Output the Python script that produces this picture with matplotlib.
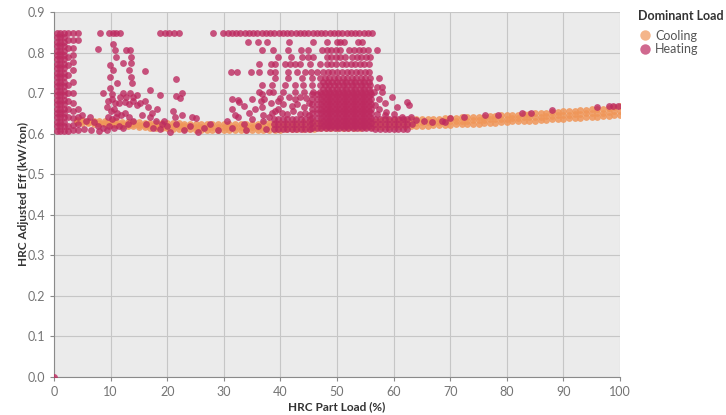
import numpy as np
import matplotlib.pyplot as plt
from matplotlib.lines import Line2D

plt.rcParams['font.family'] = ['Lato', 'DejaVu Sans']

# --- Cooling: narrow band of points, three rows (bottom, middle, top of band)
cool_x = [4, 5, 6, 7, 8, 9, 10,
          11, 12, 13, 14, 15, 16, 17, 18, 19, 20,
          21, 22, 23, 24, 25, 26, 27, 28, 29, 30,
          31, 32, 33, 34, 35, 36, 37, 38, 39, 40,
          41, 42, 43, 44, 45, 46, 47, 48, 49, 50,
          51, 52, 53, 54, 55, 56, 57, 58, 59, 60,
          61, 62, 63, 64, 65, 66, 67, 68, 69, 70,
          71, 72, 73, 74, 75, 76, 77, 78, 79, 80,
          81, 82, 83, 84, 85, 86, 87, 88, 89, 90,
          91, 92, 93, 94, 95, 96, 97, 98, 99, 100]
cool_lo = [0.628, 0.627, 0.626, 0.625, 0.624, 0.623, 0.622,
           0.621, 0.620, 0.619, 0.618, 0.617, 0.616, 0.615, 0.614, 0.613, 0.613,
           0.612, 0.612, 0.611, 0.611, 0.610, 0.610, 0.609, 0.609, 0.608, 0.608,
           0.608, 0.608, 0.608, 0.608, 0.609, 0.609, 0.609, 0.610, 0.610, 0.610,
           0.611, 0.611, 0.611, 0.612, 0.612, 0.612, 0.613, 0.613, 0.613, 0.614,
           0.614, 0.614, 0.615, 0.615, 0.616, 0.616, 0.616, 0.617, 0.617, 0.618,
           0.618, 0.618, 0.619, 0.619, 0.620, 0.620, 0.621, 0.621, 0.622, 0.622,
           0.623, 0.623, 0.624, 0.625, 0.625, 0.626, 0.627, 0.627, 0.628, 0.629,
           0.630, 0.630, 0.631, 0.632, 0.632, 0.633, 0.634, 0.635, 0.636, 0.637,
           0.638, 0.639, 0.639, 0.640, 0.641, 0.642, 0.643, 0.644, 0.645, 0.646]
cool_mid = [0.630, 0.630, 0.629, 0.628, 0.627, 0.627, 0.626,
            0.625, 0.624, 0.624, 0.623, 0.622, 0.621, 0.621, 0.620, 0.619, 0.619,
            0.619, 0.619, 0.618, 0.618, 0.617, 0.617, 0.617, 0.617, 0.616, 0.616,
            0.616, 0.616, 0.616, 0.616, 0.617, 0.617, 0.617, 0.618, 0.618, 0.618,
            0.619, 0.619, 0.619, 0.620, 0.620, 0.620, 0.621, 0.621, 0.621, 0.622,
            0.622, 0.622, 0.623, 0.623, 0.624, 0.624, 0.624, 0.625, 0.625, 0.626,
            0.626, 0.626, 0.627, 0.627, 0.628, 0.628, 0.629, 0.629, 0.630, 0.630,
            0.631, 0.632, 0.632, 0.633, 0.634, 0.634, 0.635, 0.636, 0.636, 0.637,
            0.638, 0.639, 0.640, 0.640, 0.641, 0.642, 0.643, 0.644, 0.645, 0.646,
            0.647, 0.648, 0.649, 0.650, 0.650, 0.651, 0.652, 0.653, 0.655, 0.656]
cool_hi = [0.633, 0.633, 0.632, 0.632, 0.631, 0.631, 0.630,
           0.630, 0.629, 0.629, 0.628, 0.628, 0.627, 0.627, 0.626, 0.626, 0.626,
           0.626, 0.626, 0.625, 0.625, 0.625, 0.625, 0.625, 0.625, 0.625, 0.625,
           0.625, 0.625, 0.625, 0.625, 0.625, 0.625, 0.626, 0.626, 0.626, 0.626,
           0.627, 0.627, 0.627, 0.628, 0.628, 0.628, 0.629, 0.629, 0.629, 0.630,
           0.630, 0.630, 0.631, 0.631, 0.632, 0.632, 0.632, 0.633, 0.633, 0.634,
           0.634, 0.634, 0.635, 0.635, 0.636, 0.636, 0.637, 0.637, 0.638, 0.638,
           0.639, 0.640, 0.640, 0.641, 0.642, 0.642, 0.643, 0.644, 0.645, 0.645,
           0.646, 0.647, 0.648, 0.649, 0.650, 0.651, 0.652, 0.653, 0.654, 0.655,
           0.656, 0.657, 0.658, 0.659, 0.660, 0.661, 0.662, 0.663, 0.665, 0.667]

# --- Heating
# dense column at very low part load
left_col_x = [0.5, 1.1, 1.7]
left_col_y = [0.607, 0.618, 0.629, 0.640, 0.651, 0.662, 0.673, 0.684, 0.695,
              0.706, 0.717, 0.728, 0.739, 0.750, 0.761, 0.772, 0.783, 0.794,
              0.805, 0.816, 0.827, 0.838, 0.849]

# dense core around 45-56 % (two staggered sets of readings)
core_x = [45.6, 46.4, 47.2, 48.0, 48.8, 49.6, 50.4, 51.2, 52.0, 52.8, 53.6,
          54.4, 55.2, 56.0]
core_y = [0.614, 0.626, 0.638, 0.650, 0.662, 0.674, 0.686, 0.698]
core2_x = [47.6, 48.4, 49.2, 50.0, 50.8, 51.6, 52.4, 53.2, 54.0, 54.8, 55.6]
core2_y = [0.620, 0.632, 0.644, 0.656, 0.668, 0.680, 0.692, 0.710, 0.728]

# dense floor either side of the core
floor_x = [38.8, 39.6, 40.4, 41.2, 42.0, 42.8, 43.6, 44.4, 45.2,
           56.8, 57.6, 58.4, 59.2, 60.0, 60.8, 61.6, 62.4]
floor_y = [0.612, 0.624, 0.636]

# capped values at ~0.847
cap_y = 0.847
cap_x = [8.1, 9.8, 10.4, 11.0, 11.6, 18.8, 19.6, 20.4, 21.2, 22.0, 28.1,
         29.9, 30.7, 31.4, 32.2, 32.9, 33.7, 34.4, 35.2, 35.9, 36.7, 37.4,
         38.2, 38.9, 39.7, 40.4, 41.2, 41.9, 42.7, 43.4, 44.2, 44.9, 45.7,
         46.4, 47.2, 47.9, 48.7, 49.4, 50.2, 50.9, 51.7, 52.4, 53.2, 53.9,
         54.7, 55.4, 56.2]

# upper rows above the core
row_y = [0.826, 0.807, 0.790, 0.772, 0.753, 0.737, 0.720, 0.703]
row_826 = [34.3, 36.1, 37.6, 41.5, 45.7, 48.2, 50.0, 50.6, 51.2, 53.7, 54.4]
row_807 = [36.8, 38.7, 41.3, 43.6, 44.8, 47.4, 48.2, 49.0, 49.8, 50.6, 52.2,
           53.0, 53.8, 54.6, 55.4, 57.0]
row_790 = [39.5, 41.9, 43.9, 44.8, 45.7, 48.2, 49.0, 49.8, 50.6, 51.4, 52.7,
           53.5, 54.3, 55.1, 55.8]
row_772 = [36.3, 38.3, 39.0, 40.8, 41.7, 42.6, 43.5, 45.3, 47.0, 48.2, 49.0,
           49.9, 50.8, 51.6, 52.4, 53.2, 54.0, 54.8, 55.6]
row_753 = [31.2, 32.3, 34.8, 36.3, 38.2, 39.1, 41.4, 42.9, 44.4, 45.4, 46.4,
           47.6, 48.4, 49.2, 50.0, 50.8, 51.7, 52.5, 53.3, 54.1, 54.9, 55.7]
row_737 = [39.0, 41.3, 43.8, 45.5, 47.0, 47.8, 48.6, 49.4, 50.2, 51.0, 51.8,
           52.6, 53.4, 54.2, 55.0, 55.8, 57.5]
row_720 = [36.8, 38.5, 40.8, 42.5, 44.0, 45.6, 47.0, 47.8, 48.6, 49.4, 50.2,
           51.0, 51.8, 52.6, 53.4, 54.2, 55.0, 55.8]
row_703 = [36.3, 37.9, 38.7, 40.5, 42.5, 44.2, 45.8, 47.0, 47.8, 48.6, 49.4,
           50.2, 51.0, 51.8, 52.6, 53.4, 54.2, 55.0, 55.8, 56.5, 58.0]

# scattered heating points
heat_x = [2.5, 2.5, 2.5, 2.5, 2.5, 2.5, 2.5, 2.5, 2.5, 2.5, 2.5, 2.5, 2.5,
          3.3, 3.3, 3.3, 3.3, 3.3, 3.3, 3.3, 3.3, 3.3, 3.3, 3.3, 3.3, 3.3,
          4.2, 4.2, 4.2, 4.2, 4.2, 4.2,
          5.0, 5.6, 6.3, 7.0, 7.8, 8.6, 9.3, 5.3, 6.6, 8.0,
          7.8, 10.5, 10.8, 12.8, 13.5, 11.0, 13.6, 12.2, 13.6, 9.9,
          10.4, 13.3, 16.1, 9.9, 13.6, 11.2, 13.8, 9.9, 8.7, 10.3, 17.0, 18.7,
          12.2, 12.8, 13.4, 14.0, 14.6, 12.5, 13.2, 13.9, 14.6, 15.2, 11.6, 11.4,
          16.0, 16.6, 18.2, 17.4,
          9.4, 10.0, 10.6, 11.2, 9.6, 10.3, 11.0, 11.8, 12.6, 13.3, 9.8, 10.6,
          11.4, 12.2, 13.0, 14.0, 9.5, 10.2, 10.8,
          17.0, 18.0, 19.0, 17.5, 18.8, 20.0, 15.5, 16.2,
          21.6, 21.6, 22.3, 22.6, 21.3, 22.7, 24.4, 25.0, 21.0,
          19.5, 21.5, 23.0, 24.0, 26.5, 27.5, 29.0, 20.5, 25.5,
          32.5, 32.7, 33.5, 31.5, 32.0, 36.8, 36.5, 38.3, 39.5, 36.8,
          34.5, 35.5, 37.0, 38.5, 39.5, 31.5, 35.0, 37.1,
          30.5, 31.5, 32.5, 33.5, 34.0, 35.0, 36.0, 37.0, 37.5, 38.0,
          40.0, 41.5, 42.5, 43.5, 44.5, 40.5, 42.0, 43.0, 44.2, 45.0,
          39.0, 40.2, 41.2, 42.3, 43.4, 44.4, 45.0,
          57.0, 58.0, 59.7, 60.6, 62.3, 62.8, 58.7, 57.5, 56.8, 57.5, 58.5,
          57.0, 58.5, 60.0, 61.5, 63.2, 63.0,
          64.0, 65.3, 66.7, 68.5, 69.0, 70.0, 72.5, 76.1, 78.5, 82.7, 84.3,
          88.0, 96.0, 98.0, 98.8, 99.6, 0.0]
heat_y = [0.848, 0.830, 0.812, 0.790, 0.770, 0.745, 0.720, 0.700, 0.680,
          0.660, 0.640, 0.620, 0.607,
          0.848, 0.830, 0.812, 0.795, 0.776, 0.756, 0.728, 0.700, 0.675,
          0.655, 0.638, 0.622, 0.610,
          0.848, 0.830, 0.660, 0.640, 0.625, 0.610,
          0.645, 0.632, 0.640, 0.628, 0.620, 0.615, 0.610, 0.612, 0.608, 0.607,
          0.808, 0.820, 0.806, 0.806, 0.806, 0.790, 0.790, 0.774, 0.775, 0.770,
          0.756, 0.757, 0.754, 0.740, 0.740, 0.726, 0.725, 0.712, 0.700, 0.697,
          0.708, 0.695,
          0.700, 0.690, 0.700, 0.690, 0.695, 0.678, 0.672, 0.680, 0.670, 0.675,
          0.690, 0.675,
          0.680, 0.665, 0.660, 0.650,
          0.665, 0.655, 0.660, 0.650, 0.640, 0.635, 0.640, 0.645, 0.650, 0.640,
          0.620, 0.615, 0.620, 0.615, 0.625, 0.630, 0.680, 0.685, 0.675,
          0.640, 0.630, 0.625, 0.615, 0.612, 0.620, 0.645, 0.625,
          0.735, 0.694, 0.688, 0.700, 0.642, 0.645, 0.642, 0.638, 0.655,
          0.630, 0.625, 0.610, 0.620, 0.615, 0.625, 0.610, 0.605, 0.605,
          0.683, 0.677, 0.668, 0.660, 0.645, 0.697, 0.680, 0.675, 0.680, 0.665,
          0.650, 0.660, 0.645, 0.650, 0.660, 0.686, 0.686, 0.686,
          0.630, 0.615, 0.640, 0.625, 0.610, 0.635, 0.620, 0.630, 0.612, 0.640,
          0.688, 0.690, 0.685, 0.690, 0.688, 0.672, 0.668, 0.672, 0.665, 0.675,
          0.655, 0.652, 0.648, 0.655, 0.648, 0.652, 0.645,
          0.715, 0.715, 0.690, 0.666, 0.678, 0.670, 0.653, 0.685, 0.670, 0.660,
          0.675, 0.648, 0.645, 0.648, 0.642, 0.625, 0.640,
          0.634, 0.630, 0.628, 0.632, 0.628, 0.638, 0.640, 0.645, 0.647, 0.650,
          0.652, 0.658, 0.666, 0.668, 0.669, 0.668, 0.0]

x_ticks = [0, 10, 20, 30, 40, 50, 60, 70, 80, 90, 100]
y_ticks = [0.0, 0.1, 0.2, 0.3, 0.4, 0.5, 0.6, 0.7, 0.8, 0.9]
y_tick_labels = ['0.0', '0.1', '0.2', '0.3', '0.4', '0.5', '0.6', '0.7', '0.8', '0.9']

cool_color = '#f09658'
heat_color = '#bd2a60'

# assemble heating points
hx = list(heat_x)
hy = list(heat_y)
for xs, ys in [(left_col_x, left_col_y), (core_x, core_y), (core2_x, core2_y),
               (floor_x, floor_y)]:
    gx, gy = np.meshgrid(xs, ys)
    hx += list(gx.ravel())
    hy += list(gy.ravel())
hx += cap_x
hy += [cap_y] * len(cap_x)
for yv, xs in zip(row_y, [row_826, row_807, row_790, row_772, row_753,
                          row_737, row_720, row_703]):
    hx += xs
    hy += [yv] * len(xs)

fig = plt.figure(figsize=(7.26, 4.15), dpi=100)
ax = fig.add_axes([0.0744, 0.0916, 0.7796, 0.8795])
ax.set_facecolor('#ebebeb')

for ys in [cool_lo, cool_mid, cool_hi]:
    ax.scatter(cool_x, ys, s=24, color=cool_color, alpha=0.85, linewidths=0, zorder=2)
ax.scatter(hx, hy, s=24, color=heat_color, alpha=0.8, linewidths=0, zorder=3)

ax.set_xlim(0, 100)
ax.set_ylim(0, 0.9)
ax.set_xticks(x_ticks)
ax.set_yticks(y_ticks)
ax.set_yticklabels(y_tick_labels)
ax.grid(True, color='#c6c6c6', linewidth=0.8)
ax.set_axisbelow(True)
for side in ['top', 'right']:
    ax.spines[side].set_visible(False)
for side in ['left', 'bottom']:
    ax.spines[side].set_color('#8a8a8a')
    ax.spines[side].set_linewidth(0.8)
ax.tick_params(colors='#8a8a8a', labelcolor='#747474', labelsize=9, length=3, width=0.8)

ax.set_xlabel('HRC Part Load (%)', fontsize=8.5, fontweight='bold', color='#333333', labelpad=2)
ax.set_ylabel('HRC Adjusted Eff (kW/ton)', fontsize=8.5, fontweight='bold', color='#333333', labelpad=-1)

fig.text(638 / 726, 1 - 16 / 415, 'Dominant Load', ha='left', va='center',
         fontsize=9, fontweight='bold', color='#333333')
handles = [Line2D([], [], linestyle='none', marker='o', markersize=7.5,
                  markerfacecolor=cool_color, markeredgewidth=0, alpha=0.7),
           Line2D([], [], linestyle='none', marker='o', markersize=7.5,
                  markerfacecolor=heat_color, markeredgewidth=0, alpha=0.7)]
leg = ax.legend(handles, ['Cooling', 'Heating'],
                loc='upper left', bbox_to_anchor=(1.0336, 0.952), frameon=False,
                fontsize=9, borderaxespad=0, borderpad=0, handletextpad=0.3,
                labelspacing=0.12, handlelength=1.0)
for t in leg.get_texts():
    t.set_color('#555555')

fig.savefig('out.png', dpi=100)
